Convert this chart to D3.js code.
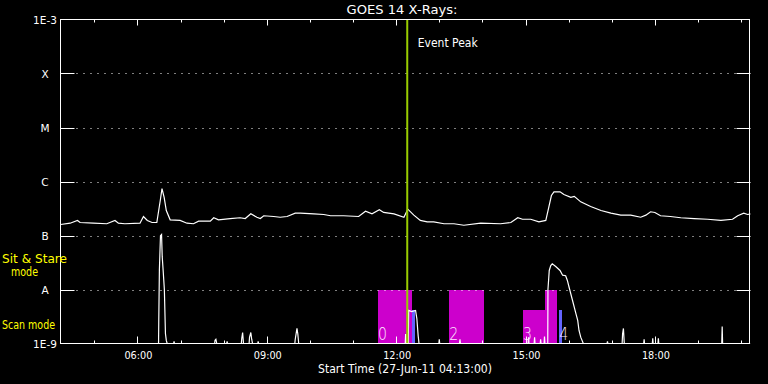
<!DOCTYPE html>
<html><head><meta charset="utf-8">
<script src="https://cdn.jsdelivr.net/npm/d3@7"></script>
<style>html,body{margin:0;padding:0;background:#000;} svg{display:block;}</style>
</head><body><svg id="c" width="768" height="384"></svg>
<script>
// ---------- data ----------
const chartTitle = "GOES 14 X-Rays:";
const startLabel = "Start Time (27-Jun-11 04:13:00)";
const timeStart = 4 + 13 / 60;          // hours UT
const timeEnd = 20 + 13 / 60;
const levelValues = [1e-3, 1e-4, 1e-5, 1e-6, 1e-7, 1e-8, 1e-9];
const levelLabels = ["1E-3", "X", "M", "C", "B", "A", "1E-9"];
const hourTicks = [5, 6, 7, 8, 9, 10, 11, 12, 13, 14, 15, 16, 17, 18, 19, 20];
const labelledHours = [6, 9, 12, 15, 18];
const eventPeakTime = 12.257;
const eventPeakLabel = "Event Peak";
const modeNames = ["Sit & Stare", "mode", "Scan mode"];

// long channel (1-8 A)
const longHours = [4.22,4.44,4.61,4.67,4.98,5.29,5.48,5.56,5.71,6.06,6.14,6.23,6.34,6.45,6.53,6.57,6.62,6.67,6.76,6.99,7.15,7.30,7.42,7.69,7.77,7.88,8.15,8.38,8.50,8.63,8.77,8.85,8.93,9.16,9.31,9.47,9.66,9.78,10.09,10.32,10.48,10.78,11.13,11.29,11.44,11.61,11.71,11.95,12.18,12.27,12.41,12.56,12.72,12.87,13.11,13.34,13.57,13.96,14.42,14.66,14.82,14.93,15.12,15.31,15.47,15.54,15.60,15.66,15.80,15.89,16.05,16.13,16.28,16.51,16.75,16.98,17.21,17.44,17.67,17.79,17.90,18.00,18.13,18.36,18.60,18.91,19.22,19.53,19.80,19.92,20.06,20.15,20.22];
const longFlux = [1.6e-7,1.69e-7,1.9e-7,1.74e-7,1.69e-7,1.65e-7,1.9e-7,1.69e-7,1.65e-7,1.69e-7,2.25e-7,1.9e-7,1.74e-7,1.74e-7,4.45e-7,7.4e-7,5.1e-7,2.9e-7,1.95e-7,1.9e-7,1.69e-7,1.65e-7,1.84e-7,1.84e-7,2.13e-7,1.95e-7,2.06e-7,2.13e-7,2.06e-7,2.52e-7,2.18e-7,2.06e-7,2.32e-7,2.25e-7,2.18e-7,2.25e-7,2.59e-7,2.59e-7,2.52e-7,2.45e-7,2.32e-7,2.32e-7,2.25e-7,2.82e-7,2.52e-7,2.99e-7,2.67e-7,2.52e-7,2.18e-7,3.07e-7,2.38e-7,1.9e-7,1.79e-7,1.79e-7,1.65e-7,1.65e-7,1.55e-7,1.69e-7,1.65e-7,1.74e-7,2.13e-7,2.0e-7,2.0e-7,1.79e-7,1.9e-7,3.34e-7,5.5e-7,6.44e-7,6.44e-7,5.74e-7,5.1e-7,5.3e-7,4.2e-7,3.44e-7,2.9e-7,2.59e-7,2.38e-7,2.38e-7,2.18e-7,2.38e-7,2.75e-7,2.67e-7,2.32e-7,2.25e-7,2.13e-7,2.06e-7,2.0e-7,1.9e-7,2.0e-7,2.32e-7,2.59e-7,2.45e-7,2.52e-7];

// short channel (0.5-4 A); 1e-9 = at or below plot floor
const shortHours = [4.22,6.49,6.495,6.51,6.535,6.56,6.575,6.60,6.625,6.65,6.67,6.69,
  6.84,6.85,6.86, 7.79,7.80,7.82,7.84, 8.07,8.08,8.09, 8.41,8.42,8.44,8.46,
  8.59,8.60,8.63,8.65,8.67, 8.79,8.80,8.81, 9.65,9.66,9.70,9.72,9.74,
  12.21,12.22,12.23, 12.28,12.29,12.36,12.45,12.48,12.51,12.53,
  12.99,13.00,13.01, 13.47,13.48,13.49, 15.06,15.07,15.08, 15.20,15.21,15.22,
  15.34,15.35,15.36, 15.43,15.44,15.45,
  15.515,15.52,15.55,15.585,15.62,15.70,15.80,15.86,15.93,15.97,16.01,16.09,16.17,16.21,16.24,16.28,16.34,
  16.89,16.90,16.91, 17.24,17.25,17.27,17.29, 17.74,17.75,17.76, 17.94,17.95,17.96,
  18.07,18.08,18.09, 19.55,19.56,19.57, 20.2167];
const shortFlux = [1e-9,1e-9,2.45e-9,2.34e-8,9.9e-8,1.04e-7,4.1e-8,2.07e-8,1.0e-8,1.53e-9,1.14e-9,1e-9,
  1e-9,1.1e-9,1e-9, 1e-9,1.15e-9,1.2e-9,1e-9, 1e-9,1.1e-9,1e-9, 1e-9,1.25e-9,1.6e-9,1e-9,
  1e-9,1.3e-9,1.6e-9,1.2e-9,1e-9, 1e-9,1.1e-9,1e-9, 1e-9,1.2e-9,1.9e-9,1.5e-9,1e-9,
  1e-9,1.5e-9,1e-9, 1e-9,4.1e-9,3.9e-9,4.1e-9,2.9e-9,1.4e-9,1e-9,
  1e-9,1.2e-9,1e-9, 1e-9,1.2e-9,1e-9, 1e-9,1.3e-9,1e-9, 1e-9,1.3e-9,1e-9,
  1e-9,1.2e-9,1e-9, 1e-9,1.35e-9,1e-9,
  1e-9,1.0e-8,2.25e-8,2.78e-8,2.99e-8,2.67e-8,2.25e-8,1.84e-8,1.8e-8,1.47e-8,1.1e-8,6.25e-9,3.55e-9,2.67e-9,1.74e-9,1.31e-9,1e-9,
  1e-9,1.1e-9,1e-9, 1e-9,1.5e-9,1.9e-9,1e-9, 1e-9,1.2e-9,1e-9, 1e-9,1.25e-9,1e-9,
  1e-9,1.25e-9,1e-9, 1e-9,2.07e-9,1e-9, 1e-9];

// observation blocks
const obsStart = [11.57, 12.36, 13.22, 14.93, 15.44, 15.77];
const obsEnd   = [12.36, 12.43, 14.03, 15.44, 15.72, 15.84];
const obsMode  = ["stare", "scan", "stare", "scan", "stare", "scan"];
const obsInstr = ["main", "other", "main", "main", "main", "other"];
const obsLabel = ["0", "", "2", "3", "", "4"];
const modeLevel = {stare: 1e-8, scan: 4.1e-9};

// ---------- drawing ----------
const svg = d3.select("#c");
svg.append("rect").attr("width", 768).attr("height", 384).attr("fill", "#000");
const L = 60.5, R = 750.5, T = 19.5, B = 343.5;
const x = d3.scaleLinear().domain([timeStart, timeEnd]).range([L, R]);
const y = d3.scaleLog().domain([1e-9, 1e-3]).range([B, T]);
const font = "'DejaVu Sans', 'Liberation Sans', sans-serif";
const instrColor = {main: "#cc00cc", other: "#6464ff"};

function txt(sel, len) {
  return sel.attr("textLength", len).attr("lengthAdjust", "spacingAndGlyphs");
}

svg.append("defs").append("clipPath").attr("id", "clip")
  .append("rect").attr("x", L).attr("y", T - 1).attr("width", R - L).attr("height", B - T + 1);

// observation blocks
const obs = obsStart.map((s, i) => ({s, e: obsEnd[i], mode: obsMode[i], instr: obsInstr[i], label: obsLabel[i]}));
svg.append("g").selectAll("rect").data(obs).join("rect")
  .attr("x", d => Math.round(x(d.s)))
  .attr("width", d => Math.round(x(d.e)) - Math.round(x(d.s)))
  .attr("y", d => Math.round(y(modeLevel[d.mode])))
  .attr("height", d => Math.round(B) - Math.round(y(modeLevel[d.mode])))
  .attr("fill", d => instrColor[d.instr]);

// grid lines (dotted)
const gridLevels = levelValues.slice(1, -1);
const g = svg.append("g");
g.selectAll("line.grid").data(gridLevels).join("line")
  .attr("x1", L + 16).attr("x2", R - 14)
  .attr("y1", d => Math.round(y(d)) + 0.5).attr("y2", d => Math.round(y(d)) + 0.5)
  .attr("stroke", "#fff").attr("stroke-width", 1).attr("stroke-dasharray", "1 6");
g.selectAll("line.tl").data(gridLevels).join("line")
  .attr("x1", L).attr("x2", L + 14)
  .attr("y1", d => Math.round(y(d)) + 0.5).attr("y2", d => Math.round(y(d)) + 0.5)
  .attr("stroke", "#fff");
g.selectAll("line.tr").data(gridLevels).join("line")
  .attr("x1", R - 14).attr("x2", R)
  .attr("y1", d => Math.round(y(d)) + 0.5).attr("y2", d => Math.round(y(d)) + 0.5)
  .attr("stroke", "#fff");

// y labels
svg.append("g").selectAll("text").data(levelValues).join("text")
  .attr("x", 45).attr("y", d => y(d) + 4)
  .attr("text-anchor", "middle").attr("fill", "#fff")
  .attr("font-family", font).attr("font-size", 10.5)
  .text((d, i) => levelLabels[i]);

// data lines
const plot = svg.append("g").attr("clip-path", "url(#clip)");
const lineGen = d3.line().x(d => x(d[0])).y(d => y(Math.max(d[1], 1e-9)));
plot.append("path").datum(longHours.map((h, i) => [h, longFlux[i]]))
  .attr("d", lineGen).attr("fill", "none").attr("stroke", "#fff").attr("stroke-width", 1.2);
plot.append("path").datum(shortHours.map((h, i) => [h, shortFlux[i]]))
  .attr("d", lineGen).attr("fill", "none").attr("stroke", "#fff").attr("stroke-width", 1.2);

// observation labels
svg.append("g").selectAll("text").data(obs.filter(d => d.label)).join("text")
  .attr("x", d => x(d.s) + 0.5).attr("y", 340)
  .attr("fill", "#ffe8ff").attr("font-family", font).attr("font-size", 17)
  .attr("font-weight", 300)
  .attr("textLength", 9).attr("lengthAdjust", "spacingAndGlyphs")
  .text(d => d.label);

// event peak
svg.append("line").attr("x1", x(eventPeakTime)).attr("x2", x(eventPeakTime))
  .attr("y1", T).attr("y2", B).attr("stroke", "#99cc00").attr("stroke-width", 2);
txt(svg.append("text").attr("x", x(eventPeakTime) + 10.5).attr("y", 47)
  .attr("fill", "#fff").attr("font-family", font).attr("font-size", 11.5), 60)
  .text(eventPeakLabel);

// frame
svg.append("rect").attr("x", L).attr("y", T).attr("width", R - L - 1).attr("height", B - T)
  .attr("fill", "none").attr("stroke", "#fff").attr("stroke-width", 1);

// x ticks
const xt = svg.append("g");
xt.selectAll("line.top").data(hourTicks).join("line")
  .attr("x1", d => Math.round(x(d)) + 0.5).attr("x2", d => Math.round(x(d)) + 0.5)
  .attr("y1", T).attr("y2", d => T + (labelledHours.includes(d) ? 6 : 3))
  .attr("stroke", "#fff");
xt.selectAll("line.bot").data(hourTicks).join("line")
  .attr("x1", d => Math.round(x(d)) + 0.5).attr("x2", d => Math.round(x(d)) + 0.5)
  .attr("y1", B).attr("y2", d => B - (labelledHours.includes(d) ? 7 : 3))
  .attr("stroke", "#fff");
xt.selectAll("text").data(labelledHours).join("text")
  .attr("x", d => x(d) + 1).attr("y", 359)
  .attr("text-anchor", "middle").attr("fill", "#fff")
  .attr("font-family", font).attr("font-size", 10)
  .attr("textLength", 28).attr("lengthAdjust", "spacingAndGlyphs")
  .text(d => d3.format("02")(d) + ":00");

// titles
txt(svg.append("text").attr("x", 402).attr("y", 13.5).attr("text-anchor", "middle")
  .attr("fill", "#fff").attr("font-family", font).attr("font-size", 12.5), 111).text(chartTitle);
txt(svg.append("text").attr("x", 405).attr("y", 372.5).attr("text-anchor", "middle")
  .attr("fill", "#fff").attr("font-family", font).attr("font-size", 11.5), 174).text(startLabel);

// mode labels
const modeG = svg.append("g").attr("fill", "#ffff00").attr("font-family", font).attr("font-size", 11.5);
txt(modeG.append("text").attr("x", 2).attr("y", 263), 65).text(modeNames[0]);
txt(modeG.append("text").attr("x", 11).attr("y", 276), 27).text(modeNames[1]);
txt(modeG.append("text").attr("x", 2).attr("y", 328.5), 53).text(modeNames[2]);
</script></body></html>
